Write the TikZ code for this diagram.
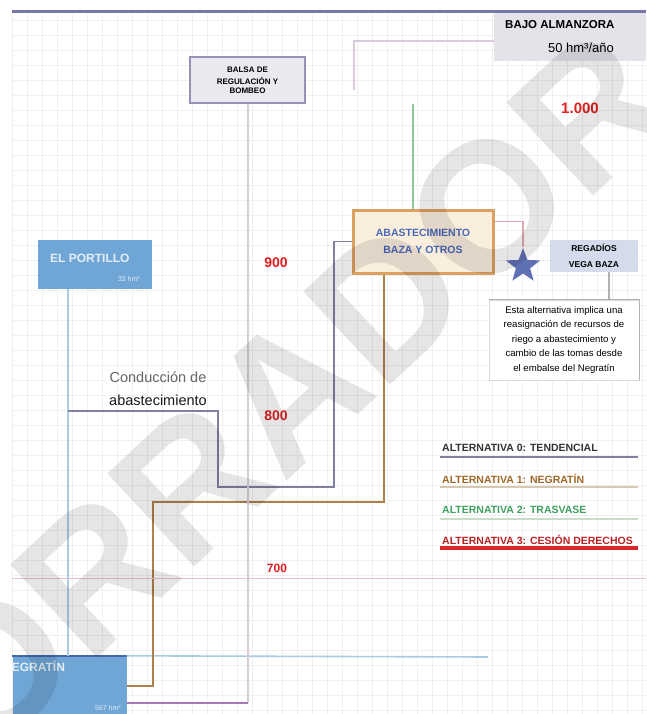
\documentclass[tikz,border=0pt]{standalone}
\usepackage{fontspec}
\setmainfont{Liberation Sans}
\usetikzlibrary{shapes.geometric}
\definecolor{gridc}{HTML}{F0F0F0}
\definecolor{topline}{HTML}{7878A8}
\definecolor{boxblue}{HTML}{6FA6D6}
\definecolor{boxblueedge}{HTML}{4466AA}
\definecolor{alt0c}{HTML}{8080A0}
\definecolor{alt1c}{HTML}{B08048}
\definecolor{alt1t}{HTML}{A06828}
\definecolor{alt1l}{HTML}{D8C8B0}
\definecolor{alt2c}{HTML}{8CC89C}
\definecolor{alt2t}{HTML}{40A060}
\definecolor{alt2l}{HTML}{C8DCC8}
\definecolor{alt3c}{HTML}{D82828}
\definecolor{pinkc}{HTML}{E0A8B0}
\definecolor{lilac}{HTML}{D8CCDC}
\definecolor{purplec}{HTML}{A878B8}
\definecolor{lblue}{HTML}{A8CCE4}
\definecolor{starblue}{HTML}{6070B4}
\definecolor{abfill}{HTML}{FAEEDD}
\definecolor{abedge}{HTML}{DCA060}
\definecolor{abtext}{HTML}{4A68B8}
\definecolor{elev}{HTML}{E02020}
\definecolor{bajofill}{HTML}{E6E2EA}
\definecolor{balsafill}{HTML}{EAEAEE}
\definecolor{desalfill}{HTML}{D4DCEC}
\definecolor{paletext}{HTML}{E4EEF8}
\tikzset{
  boxnode/.style={inner sep=0pt, align=center},
  wire/.style={line width=1.6pt},
  elevlabel/.style={text=elev, inner sep=0pt, font=\fontsize{14}{16}\selectfont\bfseries},
  legtext/.style={anchor=west, inner sep=0pt, font=\fontsize{10.5}{11}\selectfont\bfseries},
}
\begin{document}
\begin{tikzpicture}[x=1pt,y=-1pt]
\useasboundingbox (0,0) rectangle (646,714);
\fill[white] (0,0) rectangle (646,714);
% faint spreadsheet grid
\foreach \gx in {12,27,...,646} \draw[gridc, line width=0.5pt] (\gx,14) -- (\gx,714);
\foreach \gy in {20,35,...,714} \draw[gridc, line width=0.5pt] (12,\gy) -- (646,\gy);
% top line
\draw[topline, line width=3pt] (12,12) -- (646,12);
% boxes
\node[boxnode, fill=bajofill, minimum width=152pt, minimum height=48pt] (bajo) at (570,37) {};
\begin{scope}
\clip (494,13) rectangle (646,61);
\node[anchor=west, inner sep=0pt, font=\fontsize{11.5}{12}\selectfont\bfseries] (bajot) at (505,25) {BAJO ALMANZORA};
\end{scope}
\node[inner sep=0pt, font=\fontsize{13}{14}\selectfont] (bajov) at (581,48) {50 hm³/año};
\node[boxnode, fill=balsafill, draw=topline!80, line width=2pt, minimum width=115pt, minimum height=46pt,
  font=\fontsize{8}{9}\selectfont\bfseries] (balsa) at (247.5,80) {BALSA DE\\[3pt]REGULACIÓN Y\\BOMBEO};
\node[boxnode, fill=abfill, draw=abedge, line width=3pt, minimum width=140pt, minimum height=63pt,
  text=abtext, font=\fontsize{10.5}{17}\selectfont\bfseries] (abast) at (423,241.5) {ABASTECIMIENTO\\BAZA Y OTROS};
\node[boxnode, fill=desalfill, minimum width=88pt, minimum height=32pt,
  font=\fontsize{8.5}{16}\selectfont\bfseries] (desal) at (594,256) {REGADÍOS\\VEGA BAZA};
\node[boxnode, fill=white, draw=black!15, minimum width=150pt, minimum height=80pt,
  font=\fontsize{9.6}{14.5}\selectfont] (texto) at (564,340)
  {Esta alternativa implica una\\reasignación de recursos de\\riego a abastecimiento y\\cambio de las tomas desde\\el embalse del Negratín};
\draw[black!30, line width=1.2pt] (texto.north west) -- (texto.north east) -- (texto.south east);
\node[boxnode, fill=boxblue, minimum width=114pt, minimum height=49pt] (portillo) at (95,264.5) {};
\node[anchor=west, inner sep=0pt, text=paletext, font=\fontsize{12}{13}\selectfont\bfseries] (portillot) at (50,258) {EL PORTILLO};
\node[anchor=east, inner sep=0pt, text=paletext, font=\fontsize{7}{8}\selectfont] (portillov) at (140,279) {33 hm³};
\node[boxnode, fill=boxblue, minimum width=114pt, minimum height=58pt] (negratin) at (69.5,685) {};
\draw[boxblueedge, line width=2.5pt] (negratin.north west) -- (negratin.north east);
\begin{scope}
\clip (12,656) rectangle (126,714);
\node[anchor=west, inner sep=0pt, text=paletext, font=\fontsize{12}{13}\selectfont\bfseries] (negratint) at (3,666) {NEGRATÍN};
\end{scope}
\node[anchor=east, inner sep=0pt, text=paletext, font=\fontsize{7}{8}\selectfont] (negratinv) at (121,708) {567 hm³};
% star
\node[star, star points=5, star point ratio=2.4, fill=starblue, minimum size=36pt, inner sep=0pt] (star) at (523,266) {};
% coordinates
\coordinate (lil) at (354,90);
\coordinate (g0) at (413,104);
\coordinate (b0) at (384,502);
\coordinate (b1) at (153,502);
\coordinate (b2) at (153,686);
\coordinate (p0) at (248,703);
\coordinate (a0) at (334,487);
\coordinate (a1) at (218,487);
\coordinate (a2) at (218,411);
\coordinate (a3) at (68,411);
\coordinate (lb) at (488,657);
% connectors
\draw[lilac, wire] ([yshift=-4pt]bajo.west) -| (lil);
\draw[alt2c, wire] (g0) -- (abast.north -| g0);
\draw[pinkc, wire] ([yshift=-13pt]abast.north east) -| (star.north);
\draw[black!30, line width=1.2pt] ([xshift=15pt]desal.south) -- ([xshift=15pt]desal.south |- texto.north);
\draw[lblue, wire] (portillo.south -| a3) -- (negratin.north -| a3);
\draw[lblue, wire] (negratin.north east) -- (lb);
\draw[alt0c, wire] (abast.west) -| (a0) -- (a1) -- (a2) -- (a3);
\draw[alt1c, wire] (abast.south -| b0) -- (b0) -- (b1) -- (b2) -- (b2 -| negratin.east);
\draw[lilac, wire] (balsa.south -| p0) -- (p0);
\draw[purplec, line width=2.2pt] (p0) -- (p0 -| negratin.east);
% elevation line and labels
\draw[pinkc!70, line width=1pt] (12,578) -- (646,578);
\node[elevlabel, font=\fontsize{15}{16}\selectfont\bfseries] (e1000) at (580,108) {1.000};
\node[elevlabel] (e900) at (276,263) {900};
\node[elevlabel] (e800) at (276,416) {800};
\node[elevlabel, font=\fontsize{12}{14}\selectfont\bfseries] (e700) at (277,568) {700};
% conduction label
\node[inner sep=0pt, text=black!60, font=\fontsize{14.5}{15}\selectfont] (cond1) at (158,377) {Conducción de};
\node[inner sep=0pt, text=black!90, font=\fontsize{14.5}{15}\selectfont] (cond2) at (158,400) {abastecimiento};
% legend
\node[legtext, text=black!80] (l0) at (442,448) {ALTERNATIVA 0: TENDENCIAL};
\draw[alt0c, line width=2pt] (440,457) -- (638,457);
\node[legtext, text=alt1t] (l1) at (442,479) {ALTERNATIVA 1: NEGRATÍN};
\draw[alt1l, line width=2.2pt] (440,487) -- (638,487);
\node[legtext, text=alt2t] (l2) at (442,510) {ALTERNATIVA 2: TRASVASE};
\draw[alt2l, line width=1.5pt] (440,519) -- (638,519);
\node[legtext, text=alt3c!85!black] (l3) at (442,540) {ALTERNATIVA 3: CESIÓN DERECHOS};
\draw[alt3c, line width=3.2pt] (440,548) -- (638,548);
% watermark
\node[rotate=43, text=black, opacity=0.1, inner sep=0pt, font=\fontsize{185}{185}\selectfont\bfseries] (wm) at (240,438) {BORRADOR};
\end{tikzpicture}
\end{document}
